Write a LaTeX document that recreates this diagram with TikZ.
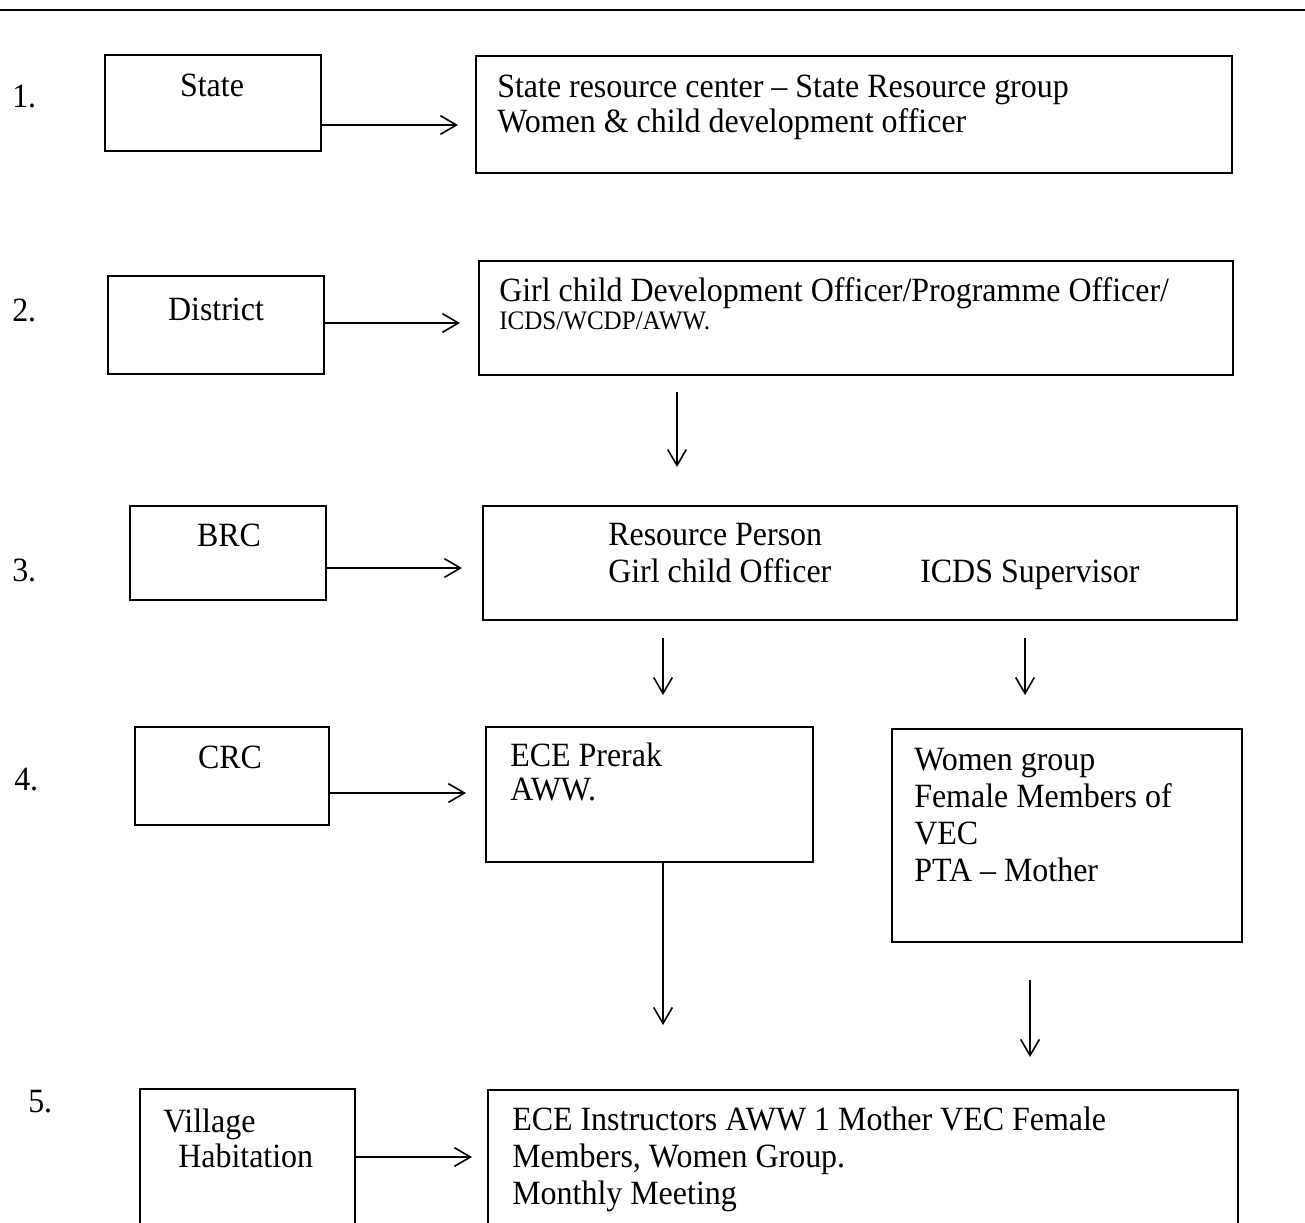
\documentclass[tikz,border=0pt]{standalone}
\usepackage{fontspec}
\setmainfont{Liberation Serif}[FakeStretch=0.94]
\usetikzlibrary{arrows.meta,calc,fit}
\begin{document}
\begin{tikzpicture}[x=0.75pt,y=-0.75pt,
  box/.style={draw, line width=1.25pt, inner sep=0pt, outer sep=0pt},
  txt/.style={anchor=base west, inner sep=0pt, font=\fontsize{25.5}{29}\selectfont},
  ctxt/.style={anchor=base, inner sep=0pt, font=\fontsize{25.5}{29}\selectfont},
  small/.style={anchor=base west, inner sep=0pt, font=\fontsize{20}{23}\selectfont},
  arr/.style={line width=1.2pt, -{Straight Barb[length=12pt,width=14pt,line width=1.2pt]}}]
\useasboundingbox (0,0) rectangle (1305,1222);
\clip (0,0) rectangle (1305,1222);

% header rule
\draw[line width=1.8pt] (0,10) -- (1305,10);

% level numbers
\node[txt] (n1) at (12,107) {1.};
\node[txt] (n2) at (12,321) {2.};
\node[txt] (n3) at (12,581) {3.};
\node[txt] (n4) at (14,790) {4.};
\node[txt] (n5) at (28,1112) {5.};

% level boxes (left column)
\node[box, fit={(105,55) (321,151)}] (st) {};
\node[box, fit={(108,276) (324,374)}] (dis) {};
\node[box, fit={(130,506) (326,600)}] (brc) {};
\node[box, fit={(135,727) (329,825)}] (crc) {};
\node[box, fit={(140,1089) (355,1240)}] (vil) {};

\node[ctxt] (tst) at (212,96) {State};
\node[ctxt] (tdis) at (216,320) {District};
\node[ctxt] (tbrc) at (229,546) {BRC};
\node[ctxt] (tcrc) at (230,768) {CRC};
\node[txt] (tvil1) at (163,1132) {Village};
\node[txt] (tvil2) at (178,1167) {Habitation};

% functionary boxes (right side)
\node[box, fit={(476,56) (1232,173)}] (src) {};
\node[box, fit={(479,261) (1233,375)}] (gdo) {};
\node[box, fit={(483,506) (1237,620)}] (rp) {};
\node[box, fit={(486,727) (813,862)}] (ece) {};
\node[box, fit={(892,729) (1242,942)}] (wg) {};
\node[box, fit={(488,1090) (1238,1240)}] (mm) {};

\node[txt] (tsrc1) at (497,97) {State resource center -- State Resource group};
\node[txt] (tsrc2) at (497,132) {Women \& child development officer};
\node[txt] (tgdo1) at (499,301) {Girl child Development Officer/Programme Officer/};
\node[small] (tgdo2) at (499,329) {ICDS/WCDP/AWW.};
\node[txt] (trp1) at (608,545) {Resource Person};
\node[txt] (trp2) at (608,582) {Girl child Officer};
\node[txt] (trp3) at (920,582) {ICDS Supervisor};
\node[txt] (tece1) at (510,766) {ECE Prerak};
\node[txt] (tece2) at (510,800) {AWW.};
\node[txt] (twg1) at (914,770) {Women group};
\node[txt] (twg2) at (914,807) {Female Members of};
\node[txt] (twg3) at (914,844) {VEC};
\node[txt] (twg4) at (914,881) {PTA -- Mother};
\node[txt] (tmm1) at (512,1130) {ECE Instructors AWW 1 Mother VEC Female};
\node[txt] (tmm2) at (512,1167) {Members, Women Group.};
\node[txt] (tmm3) at (512,1204) {Monthly Meeting};

% horizontal links
\draw[arr] ($(st.south east)+(0,-26)$) -- ($(src.north west)+(-18,69)$);
\draw[arr] ($(dis.south east)+(0,-51)$) -- ($(gdo.north west)+(-19,62)$);
\draw[arr] ($(brc.south east)+(0,-32)$) -- ($(rp.north west)+(-21,62)$);
\draw[arr] ($(crc.south east)+(0,-32)$) -- ($(ece.north west)+(-20,66)$);
\draw[arr] ($(vil.north east)+(0,68)$) -- ($(mm.north west)+(-16,67)$);

% vertical links
\draw[arr] ($(gdo.south west)+(198,17)$) -- ($(rp.north west)+(194,-39)$);
\draw[arr] ($(rp.south west)+(180,18)$) -- ($(ece.north west)+(177,-32)$);
\draw[arr] ($(rp.south west)+(542,18)$) -- ($(wg.north west)+(133,-34)$);
\draw[arr] ($(ece.south west)+(177,0)$) -- ($(mm.north west)+(175,-65)$);
\draw[arr] ($(wg.south west)+(138,38)$) -- ($(mm.north west)+(542,-33)$);
\end{tikzpicture}
\end{document}
